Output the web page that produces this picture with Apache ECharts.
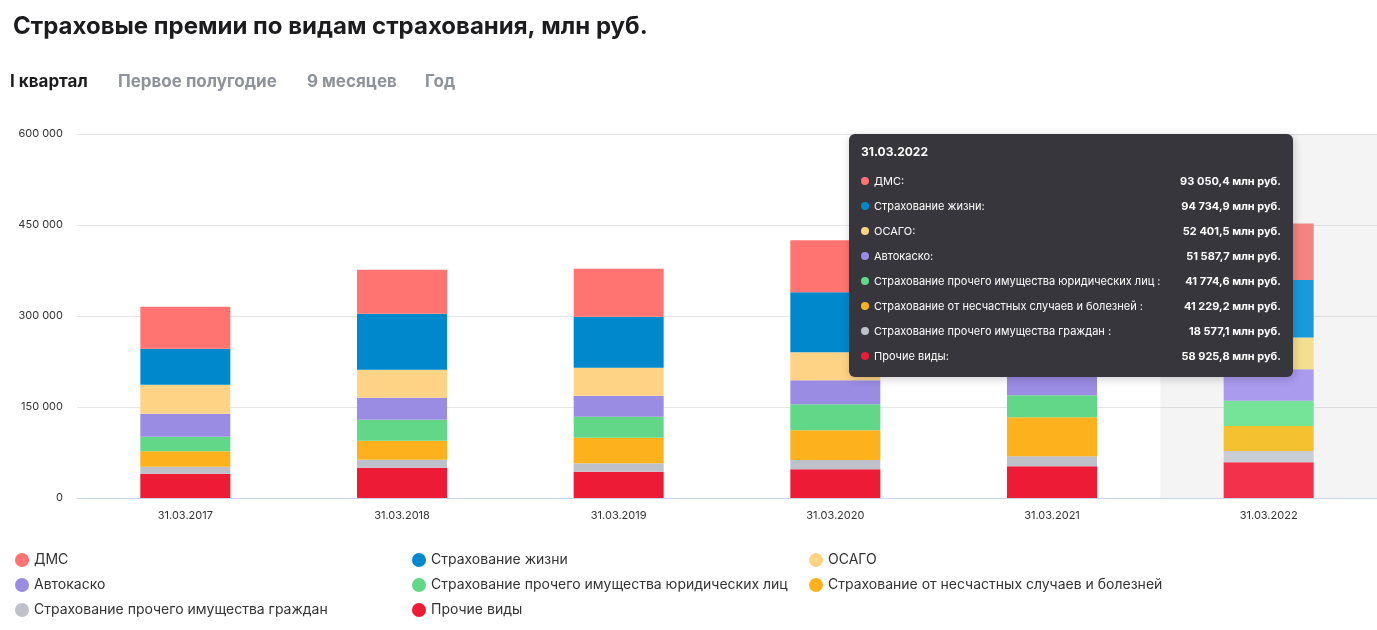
<!DOCTYPE html>
<html>
<head>
<meta charset="utf-8">
<script src="https://cdn.jsdelivr.net/npm/echarts@6/dist/echarts.min.js"></script>
<style>
  html, body { margin: 0; padding: 0; background: #fff; }
  #chart { width: 1377px; height: 630px; }
</style>
</head>
<body>
<div id="chart"></div>
<script>
// данные по годам (млн руб.)
var categories = ["31.03.2017", "31.03.2018", "31.03.2019", "31.03.2020", "31.03.2021", "31.03.2022"];
var seriesNames = [
  "Прочие виды",
  "Страхование прочего имущества граждан",
  "Страхование от несчастных случаев и болезней",
  "Страхование прочего имущества юридических лиц",
  "Автокаско",
  "ОСАГО",
  "Страхование жизни",
  "ДМС"
];
var other = [40100, 50000, 43400, 47300, 52200, 58925.8];
var citizens = [11500, 13200, 13700, 15400, 16500, 18577.1];
var accident = [25300, 31300, 42300, 48900, 64300, 41229.2];
var legal = [24200, 34600, 34600, 42900, 36300, 41774.6];
var casco = [37900, 36300, 34600, 39600, 45000, 51587.7];
var osago = [47800, 46200, 46200, 46200, 48000, 52401.5];
var life = [59300, 92300, 84100, 98900, 90000, 94734.9];
var dms = [69200, 72500, 79100, 85700, 85000, 93050.4];
var yTicks = [0, 150000, 300000, 450000, 600000];

var colors = ["#ED1B35", "#BFC1CA", "#FDB21D", "#62D788", "#9B8CE3", "#FED385", "#0088CC", "#FF7471"];
var lightColors = ["#FF344E", "#D5D7E0", "#FFCB33", "#7BEFA0", "#B3A3FA", "#FFE897", "#1BA3E5", "#FF8A87"];
var values = [other, citizens, accident, legal, casco, osago, life, dms];
var activeIndex = 5;

function fmt(v) {
  var parts = v.toFixed(1).split(".");
  return parts[0].replace(/\B(?=(\d{3})+(?!\d))/g, " ") + "," + parts[1];
}

var tipOrder = [7, 6, 5, 4, 3, 2, 1, 0];
var tipLabels = ["ДМС:", "Страхование жизни:", "ОСАГО:", "Автокаско:",
  "Страхование прочего имущества юридических лиц :", "Страхование от несчастных случаев и болезней :",
  "Страхование прочего имущества граждан :", "Прочие виды:"];

var chart = echarts.init(document.getElementById("chart"));
chart.setOption({
  animation: false,
  textStyle: { fontFamily: "Inter, 'Noto Sans', sans-serif" },
  title: { text: "Страховые премии по видам страхования, млн руб.", left: 8, top: 10,
    textStyle: { fontSize: 24, fontWeight: "bold", color: "#1c1c1e" } },
  graphic: [
    { type: "text", left: 10, top: 73, style: { text: "I квартал", fontSize: 17, fontWeight: "bold", fill: "#1c1c1e", fontFamily: "Inter" } },
    { type: "text", left: 118, top: 73, style: { text: "Первое полугодие", fontSize: 17, fontWeight: "bold", fill: "#8e939b", fontFamily: "Inter" } },
    { type: "text", left: 307, top: 73, style: { text: "9 месяцев", fontSize: 17, fontWeight: "bold", fill: "#8e939b", fontFamily: "Inter" } },
    { type: "text", left: 425, top: 73, style: { text: "Год", fontSize: 17, fontWeight: "bold", fill: "#8e939b", fontFamily: "Inter" } }
  ],
  legend: [
    { orient: "vertical", left: 10, top: 548, itemGap: 11, icon: "circle", itemWidth: 14, itemHeight: 14,
      textStyle: { fontSize: 14, color: "#333" }, data: ["ДМС", "Автокаско", "Страхование прочего имущества граждан"] },
    { orient: "vertical", left: 407, top: 548, itemGap: 11, icon: "circle", itemWidth: 14, itemHeight: 14,
      textStyle: { fontSize: 14, color: "#333" }, data: ["Страхование жизни", "Страхование прочего имущества юридических лиц", "Прочие виды"] },
    { orient: "vertical", left: 804, top: 548, itemGap: 11, icon: "circle", itemWidth: 14, itemHeight: 14,
      textStyle: { fontSize: 14, color: "#333" }, data: ["ОСАГО", "Страхование от несчастных случаев и болезней"] }
  ],
  grid: { left: 77, right: -44, top: 134, bottom: 132 },
  tooltip: {
    trigger: "axis",
    alwaysShowContent: true,
    position: [849, 134],
    backgroundColor: "#36363c",
    borderWidth: 0,
    padding: [10, 12, 8, 12],
    extraCssText: "border-radius:6px;width:420px;",
    axisPointer: { type: "shadow", shadowStyle: { color: "rgba(0,0,0,0.045)" } },
    formatter: function(params) {
      var idx = params[0].dataIndex;
      var s = '<div style="font:bold 12px Inter;color:#fff;margin-bottom:10px">' + categories[idx] + '</div>';
      tipOrder.forEach(function(si, k) {
        s += '<div style="display:flex;justify-content:space-between;font:11px Inter;color:#fff;line-height:25px">' +
          '<span><span style="display:inline-block;width:8px;height:8px;border-radius:4px;margin-right:5px;background:' +
          colors[si] + '"></span>' + tipLabels[k] + '</span><b>' + fmt(values[si][idx]) + ' млн руб.</b></div>';
      });
      return s;
    }
  },
  xAxis: {
    type: "category", data: categories,
    axisTick: { show: false },
    axisLine: { lineStyle: { color: "#c9d6ea" } },
    axisLabel: { color: "#333", fontSize: 11, margin: 12 }
  },
  yAxis: {
    type: "value", min: 0, max: 600000, interval: 150000,
    axisLabel: { color: "#333", fontSize: 11, margin: 14,
      formatter: function(v) { return yTicks.indexOf(v) >= 0 ? String(v).replace(/\B(?=(\d{3})+(?!\d))/g, " ") : ""; } },
    splitLine: { lineStyle: { color: "#e6e6e6" } }
  },
  series: seriesNames.map(function(name, i) {
    return {
      name: name, type: "bar", stack: "total", barWidth: 90, data: values[i],
      itemStyle: { color: function(p) { return p.dataIndex === activeIndex ? lightColors[i] : colors[i]; } },
      emphasis: { disabled: true }
    };
  })
});
// обновить цвета легенды
chart.setOption({ color: colors });
chart.dispatchAction({ type: "showTip", seriesIndex: 0, dataIndex: activeIndex });
</script>
</body>
</html>
